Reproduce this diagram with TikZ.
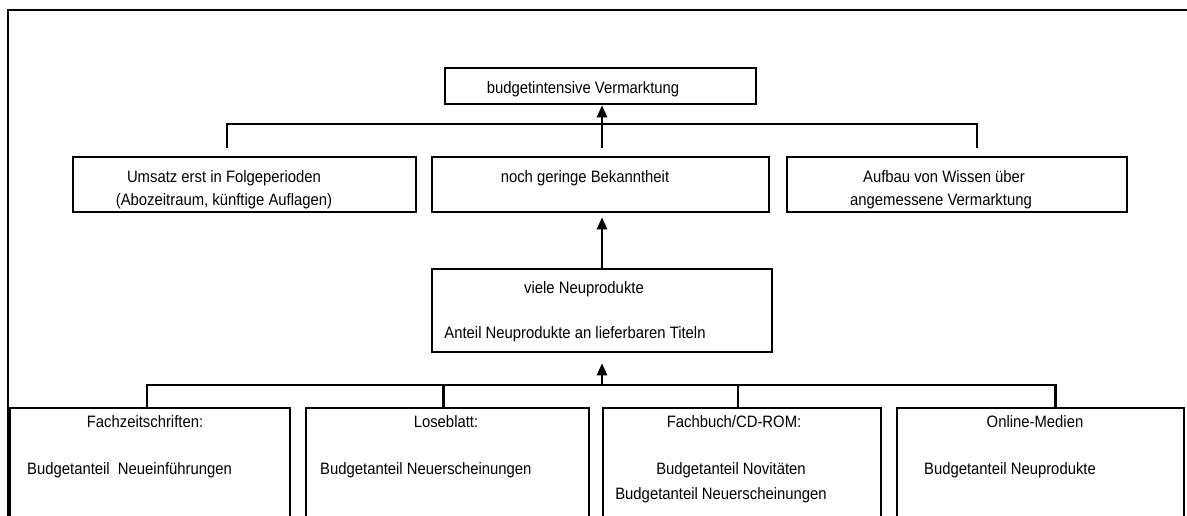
\documentclass[tikz,border=0pt]{standalone}
\usepackage{fontspec}
\setmainfont[FakeStretch=0.9]{Liberation Sans}
\usetikzlibrary{arrows.meta}
\begin{document}
\begin{tikzpicture}[x=1pt,y=-1pt,
  box/.style={draw,line width=2.5pt,inner sep=0pt},
  link/.style={line width=2.4pt},
  arr/.style={line width=2.4pt,-{Triangle[width=10pt,length=12pt]}},
  lbl/.style={inner sep=0pt,anchor=base,font=\fontsize{16.5}{20}\selectfont}]
\useasboundingbox (0,0) rectangle (1187,515);
\clip (0,0) rectangle (1187,515);
% page frame
\draw[line width=2.4pt] (8,540) |- (1200,10);

% boxes
\node[box,minimum width=311pt,minimum height=36pt] (top) at (600.5,86) {};
\node[box,minimum width=343pt,minimum height=55pt] (r1) at (244.5,184.5) {};
\node[box,minimum width=337pt,minimum height=55pt] (r2) at (600.5,184.5) {};
\node[box,minimum width=340pt,minimum height=55pt] (r3) at (957,184.5) {};
\node[box,minimum width=340pt,minimum height=83pt] (mid) at (602,310.5) {};
\node[box,minimum width=280pt,minimum height=130pt] (A) at (150,473) {};
\node[box,minimum width=283pt,minimum height=130pt] (B) at (447.5,473) {};
\node[box,minimum width=278pt,minimum height=130pt] (C) at (742,473) {};
\node[box,minimum width=287pt,minimum height=130pt] (D) at (1040.5,473) {};

% texts
\node[lbl] (tTop) at (583,93) {budgetintensive Vermarktung};
\node[lbl] (tR1a) at (224,182) {Umsatz erst in Folgeperioden};
\node[lbl] (tR1b) at (224,205) {(Abozeitraum, künftige Auflagen)};
\node[lbl] (tR2) at (585,182) {noch geringe Bekanntheit};
\node[lbl] (tR3a) at (944,182) {Aufbau von Wissen über};
\node[lbl] (tR3b) at (941,205) {angemessene Vermarktung};
\node[lbl] (tMa) at (584,293) {viele Neuprodukte};
\node[lbl] (tMb) at (575,338) {Anteil Neuprodukte an lieferbaren Titeln};
\node[lbl] (tAa) at (145,427) {Fachzeitschriften:};
\node[lbl,anchor=base west] (tAb) at (27,474) {Budgetanteil\ \ Neueinführungen};
\node[lbl] (tBa) at (446,427) {Loseblatt:};
\node[lbl,anchor=base west] (tBb) at (320,474) {Budgetanteil Neuerscheinungen};
\node[lbl] (tCa) at (734,427) {Fachbuch/CD-ROM:};
\node[lbl] (tCb) at (731,474) {Budgetanteil Novitäten};
\node[lbl] (tCc) at (721,499) {Budgetanteil Neuerscheinungen};
\node[lbl] (tDa) at (1035,427) {Online-Medien};
\node[lbl] (tDb) at (1010,474) {Budgetanteil Neuprodukte};

% upper bracket and arrow into the top box
\coordinate (tbar) at (0,124);
\coordinate (t1) at (227,148);
\coordinate (t2) at (602,148);
\coordinate (t3) at (977,148);
\draw[link] (t1) -- (t1 |- tbar) -- (t3 |- tbar) -- (t3);
\draw[arr] (t2) -- (t2 |- top.south);

% arrow from the middle box upwards
\draw[arr,shorten >=4pt] (mid.north) -- (mid.north |- r2.south);

% lower bracket and arrow into the middle box
\coordinate (bbar) at (0,385);
\draw[link] ([xshift=-3pt]A.north) -- ([xshift=-3pt]A.north |- bbar)
  -- ([xshift=15pt]D.north |- bbar) -- ([xshift=15pt]D.north);
\draw[link] ([xshift=-4pt]B.north) -- ([xshift=-4pt]B.north |- bbar);
\draw[link] ([xshift=-4pt]C.north) -- ([xshift=-4pt]C.north |- bbar);
\draw[arr,shorten >=10pt] (mid.south |- bbar) -- (mid.south);
\end{tikzpicture}
\end{document}
